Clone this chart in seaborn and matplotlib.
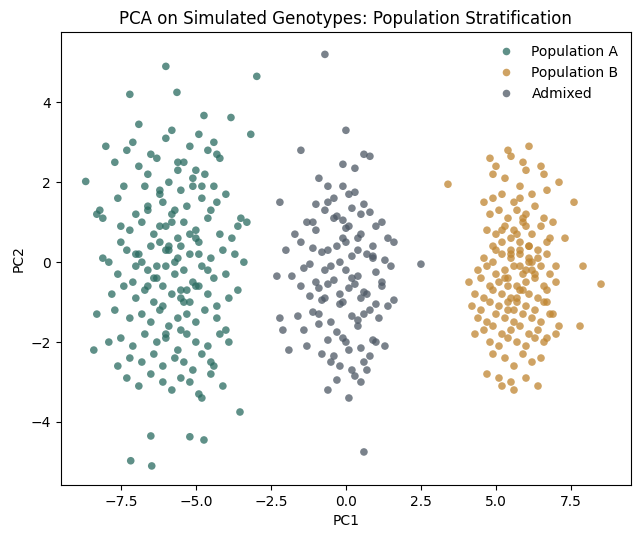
import matplotlib
matplotlib.use("Agg")
import matplotlib.pyplot as plt
import seaborn as sns
import pandas as pd

pop_a_pc1 = [-6.0,-2.97,-7.2,-5.63,-4.73,-3.83,-3.17,-6.9,-8.67,-3.53,-6.5,-5.2,-4.73,-7.17,-6.47,
 -8.0,-7.3,-7.1,-6.5,-6.0,-5.8,-5.2,-4.9,-4.6,-4.4,-4.2,-7.7,-6.9,-6.3,-5.6,-5.0,-4.3,
 -8.2,-7.6,-7.4,-6.7,-6.2,-5.9,-5.5,-5.1,-4.7,-4.4,-8.3,-8.1,-7.0,-6.6,-6.1,-5.7,-5.3,-4.8,-4.5,-4.0,-3.5,-3.3,
 -7.5,-7.2,-6.8,-6.4,-6.0,-5.6,-5.4,-5.0,-4.6,-4.2,-3.8,-3.6,
 -8.1,-7.9,-7.3,-6.9,-6.5,-6.2,-5.9,-5.5,-5.2,-4.9,-4.5,-4.1,-3.7,-3.4,
 -7.6,-7.0,-6.6,-6.3,-6.0,-5.7,-5.4,-5.1,-4.8,-4.4,-4.0,
 -8.3,-7.8,-7.4,-7.0,-6.7,-6.4,-6.1,-5.8,-5.5,-5.2,-4.9,-4.6,-4.3,-3.9,-3.6,
 -7.7,-7.2,-6.8,-6.5,-6.2,-5.9,-5.6,-5.3,-5.0,-4.7,-4.3,-4.0,
 -8.4,-7.9,-7.5,-7.1,-6.7,-6.3,-6.0,-5.6,-5.3,-5.0,-4.6,-4.2,-3.9,
 -7.6,-7.2,-6.8,-6.4,-6.1,-5.7,-5.4,-5.1,-4.8,-4.4,
 -7.3,-6.9,-6.5,-6.1,-5.8,-5.5,-5.2,-4.9,-4.5,-4.1,
 -7.5,-7.0,-6.6,-6.2,-5.8,-5.4,-5.0,-4.6,-4.3,
 -6.8,-6.4,-6.0,-5.6,-5.3,-4.9,-6.2,-5.8,-5.5,-5.1,-7.1,-6.6,-6.1,-5.6,-4.8,
 -6.3,-5.9,-5.5,-5.2,-4.8,-4.5,-6.6,-6.0,-5.7,-5.4,-5.0]
pop_a_pc2 = [4.9,4.65,4.2,4.25,3.67,3.62,3.2,3.45,2.02,-3.75,-4.35,-4.37,-4.45,-4.97,-5.1,
 2.9,2.8,3.0,2.7,3.1,3.3,2.9,3.2,2.8,3.0,2.6,2.5,2.4,2.6,2.5,2.3,2.7,
 1.3,1.6,1.9,1.9,1.8,2.0,1.8,1.9,2.2,1.9,1.2,1.1,1.2,1.4,1.5,1.3,1.4,1.6,1.3,1.7,1.1,1.0,
 0.9,0.8,1.0,0.7,0.9,0.6,1.0,0.8,1.1,0.7,0.6,0.9,
 0.1,0.0,0.3,0.2,0.4,0.5,0.3,0.4,0.2,0.5,0.1,0.3,0.2,0.0,
 -0.3,-0.1,-0.2,-0.4,-0.1,-0.3,-0.2,-0.5,-0.1,-0.4,-0.3,
 -1.3,-0.8,-0.6,-0.9,-0.7,-1.0,-0.6,-0.8,-0.7,-1.0,-0.6,-0.8,-1.1,-0.9,-0.7,
 -1.2,-1.4,-1.3,-1.5,-1.2,-1.6,-1.4,-1.3,-1.5,-1.2,-1.4,-1.7,
 -2.2,-2.0,-1.9,-2.1,-1.8,-2.0,-1.9,-2.2,-1.8,-2.0,-2.1,-1.8,-2.0,
 -2.6,-2.4,-2.5,-2.3,-2.6,-2.4,-2.5,-2.7,-2.3,-2.6,
 -2.9,-3.1,-2.8,-3.0,-3.2,-2.9,-3.0,-3.3,-2.8,-3.1,
 0.5,0.2,-0.6,0.9,1.2,-1.0,0.6,-0.2,1.5,
 0.0,-0.4,0.3,0.1,-0.7,0.2,1.7,1.0,-1.7,2.1,-0.5,2.2,-1.1,2.3,-3.4,
 -0.1,0.4,-0.9,0.7,1.9,-2.5,1.3,-1.8,0.0,2.5,-0.6]

mix_pc1 = [-0.7,0.0,-1.5,0.6,0.8,-0.1,0.3,-0.9,-0.6,-0.1,0.1,-1.0,-0.6,0.6,-2.2,
 -0.7,-1.1,0.2,0.8,1.2,0.5,-0.3,-0.1,-1.3,-0.4,0.1,1.0,1.4,-1.7,-1.5,0.0,0.5,0.9,-0.6,-0.2,
 -1.1,-0.8,-0.3,0.4,0.7,1.6,2.5,-2.0,-1.2,-0.5,0.2,0.9,1.3,-2.3,-1.5,-0.9,-0.4,0.0,0.4,1.0,1.5,
 -1.0,-0.6,-0.2,0.1,0.6,1.2,-1.8,-1.2,-0.7,0.3,0.7,1.4,-2.2,-0.8,-0.1,0.5,1.0,
 -1.6,-1.1,-0.5,0.2,0.8,-2.1,-0.9,-0.3,0.4,1.1,-1.9,-1.4,-0.6,-0.1,0.5,0.9,
 -0.8,-0.4,0.0,0.6,1.3,-1.3,-0.2,0.3,0.7,-0.5,0.1,0.8,-0.9,-0.3,0.2,1.6,-1.4,0.4,1.2,
 -0.6,0.1,0.5,-1.0,0.0,-0.2,0.6,1.0,-0.4,0.3,-0.7,0.9,-0.1,0.4,0.2,0.6]
mix_pc2 = [5.2,3.3,2.8,2.7,2.65,2.45,2.35,2.1,1.9,1.9,1.7,1.45,1.5,1.45,1.5,
 1.3,1.0,1.35,1.25,1.0,1.2,1.15,1.05,1.0,1.1,0.9,0.9,0.6,0.7,0.5,0.5,0.7,0.4,0.3,0.0,
 0.35,0.25,0.4,0.3,0.2,0.5,-0.05,0.3,-0.05,-0.1,0.15,0.1,0.05,-0.35,-0.6,-0.65,-0.45,-0.2,-0.35,-0.25,-0.1,
 -0.5,-0.55,-0.8,-0.65,-0.75,-0.6,-0.35,-0.85,-0.9,-0.55,-0.8,-1.1,-1.4,-0.95,-1.0,-0.9,-1.05,
 -1.35,-1.25,-1.5,-1.35,-1.2,-1.7,-1.55,-1.75,-1.45,-1.4,-2.2,-1.7,-1.95,-1.9,-2.15,-1.95,
 -2.3,-2.35,-2.0,-2.5,-2.1,-2.1,-2.6,-2.85,-2.7,-2.5,-2.2,-2.35,-1.3,-2.95,-0.4,-0.95,-0.15,0.6,-0.5,
 -3.2,-3.4,-3.0,0.8,0.85,-1.05,-1.3,-2.0,1.6,1.75,-0.2,0.15,0.6,-1.6,-2.7,-4.75]

pop_b_pc1 = [3.4,5.4,6.1,4.8,5.5,5.0,5.9,6.5,4.9,5.3,6.0,6.6,7.1,4.6,4.9,5.2,5.8,6.2,6.7,7.6,
 4.8,5.1,5.4,5.7,6.0,6.3,6.6,6.9,4.7,5.0,5.3,5.6,5.9,6.2,6.5,6.8,7.3,4.9,5.2,5.5,5.8,6.1,6.4,6.7,
 4.6,4.9,5.2,5.5,5.8,6.1,6.4,6.7,7.0,4.4,4.7,5.0,5.3,5.6,5.9,6.2,6.5,6.8,
 4.1,4.5,4.8,5.1,5.4,5.7,6.0,6.3,6.6,7.0,4.3,4.6,4.9,5.2,5.5,5.8,6.1,6.4,6.7,7.9,8.5,
 4.2,4.5,4.8,5.1,5.4,5.7,6.0,6.3,6.6,6.9,4.4,4.7,5.0,5.3,5.6,5.9,6.2,6.5,6.8,
 4.6,4.9,5.2,5.5,5.8,6.1,6.4,6.7,7.1,4.3,4.8,5.1,5.4,5.7,6.0,6.3,6.6,7.0,7.8,
 4.9,5.3,5.6,5.9,6.2,6.5,4.7,5.1,5.5,6.0,5.2,5.6,6.4,5.0,5.4,5.8,6.7,
 5.5,5.8,6.1,5.7,6.0,5.3,5.9,6.2,5.6,5.4,5.8,6.0,5.5,5.9,6.3,5.7,6.1,5.2,5.6]
pop_b_pc2 = [1.95,2.8,2.9,2.6,2.65,2.4,2.5,2.4,2.2,2.1,2.3,2.2,2.0,1.5,1.6,1.7,1.9,1.7,1.8,1.5,
 1.2,1.3,1.1,1.3,1.2,1.4,1.1,1.0,0.8,0.7,0.9,0.8,1.0,0.7,0.9,0.6,0.6,0.4,0.5,0.3,0.5,0.4,0.3,0.5,
 0.1,0.0,0.2,0.1,0.2,0.0,0.1,0.2,-0.1,-0.2,-0.1,-0.3,-0.2,-0.1,-0.3,-0.2,-0.1,-0.3,
 -0.5,-0.4,-0.6,-0.5,-0.4,-0.6,-0.5,-0.4,-0.6,-0.5,-0.8,-0.9,-0.7,-0.8,-0.9,-0.7,-0.8,-0.9,-0.7,-0.1,-0.55,
 -1.1,-1.2,-1.0,-1.1,-1.2,-1.0,-1.1,-1.2,-1.0,-1.3,-1.4,-1.5,-1.3,-1.4,-1.5,-1.3,-1.4,-1.5,-1.3,
 -1.7,-1.6,-1.8,-1.7,-1.6,-1.8,-1.7,-1.9,-1.6,-1.8,-2.0,-2.1,-1.9,-2.0,-2.1,-1.9,-2.0,-1.8,-1.6,
 -2.3,-2.4,-2.6,-2.3,-2.5,-2.4,-2.8,-2.9,-3.0,-2.9,-3.1,-3.2,-3.1,0.3,-0.6,1.6,-1.0,
 0.2,-0.1,0.4,0.7,0.9,-0.4,-0.7,0.0,1.5,-1.0,0.3,-0.2,0.6,1.1,-0.3,-0.9,0.1,0.8,-1.2]

frames = [
    pd.DataFrame({"PC1": pop_a_pc1, "PC2": pop_a_pc2, "Group": "Population A"}),
    pd.DataFrame({"PC1": pop_b_pc1, "PC2": pop_b_pc2, "Group": "Population B"}),
    pd.DataFrame({"PC1": mix_pc1, "PC2": mix_pc2, "Group": "Admixed"}),
]
df = pd.concat(frames, ignore_index=True)
palette = {"Population A": "#2a6b60", "Population B": "#bf8530", "Admixed": "#4d5865"}

fig, ax = plt.subplots(figsize=(6.4, 5.4), dpi=100)
sns.scatterplot(data=df, x="PC1", y="PC2", hue="Group", palette=palette, s=30,
                alpha=0.75, edgecolor="none", ax=ax)
ax.set_xlim(-9.5, 9.5)
ax.set_ylim(-5.575, 5.75)
ax.set_title("PCA on Simulated Genotypes: Population Stratification")
ax.legend(frameon=False, loc="upper right", title=None)
fig.subplots_adjust(left=0.095, right=0.986, top=0.94, bottom=0.102)
fig.savefig("out.png")
